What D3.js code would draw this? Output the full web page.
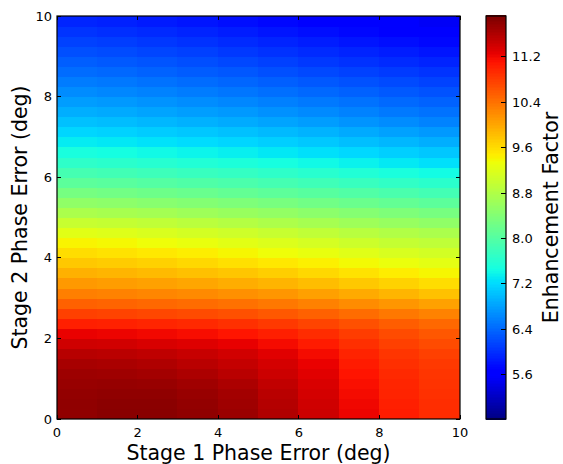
<!DOCTYPE html>
<html><head><meta charset="utf-8">
<script src="https://cdn.jsdelivr.net/npm/d3@7"></script>
<style>
html,body{margin:0;padding:0;background:#fff;}
svg{display:block;font-family:"DejaVu Sans",sans-serif;}
</style></head>
<body>
<svg id="chart" width="563" height="464"></svg>
<script>
// Stage 1 phase error bin centres (x) and Stage 2 phase error bin centres (y)
const xCenters = [0.5,1.5,2.5,3.5,4.5,5.5,6.5,7.5,8.5,9.5];
const yCenters = [0.125,0.375,0.625,0.875,1.125,1.375,1.625,1.875,2.125,2.375,2.625,2.875,
  3.125,3.375,3.625,3.875,4.125,4.375,4.625,4.875,5.125,5.375,5.625,5.875,6.125,6.375,6.625,6.875,
  7.125,7.375,7.625,7.875,8.125,8.375,8.625,8.875,9.125,9.375,9.625,9.875];
// Enhancement factor, one row per y centre (bottom to top), one value per x centre
const enhancement = [
  [11.82,11.86,11.86,11.82,11.75,11.62,11.45,11.25,11.07,10.95],
  [11.82,11.85,11.85,11.80,11.73,11.60,11.43,11.23,11.05,10.94],
  [11.80,11.82,11.82,11.77,11.70,11.57,11.40,11.20,11.02,10.92],
  [11.77,11.78,11.77,11.72,11.65,11.52,11.37,11.17,11.00,10.90],
  [11.74,11.73,11.70,11.65,11.57,11.45,11.32,11.13,10.97,10.88],
  [11.68,11.66,11.63,11.57,11.50,11.40,11.27,11.08,10.93,10.85],
  [11.58,11.56,11.53,11.48,11.42,11.32,11.20,11.02,10.88,10.80],
  [11.43,11.42,11.38,11.34,11.28,11.20,11.08,10.93,10.80,10.72],
  [11.27,11.25,11.22,11.18,11.12,11.05,10.95,10.83,10.72,10.63],
  [11.05,11.03,11.00,10.97,10.92,10.85,10.77,10.68,10.58,10.50],
  [10.80,10.78,10.75,10.72,10.68,10.62,10.55,10.47,10.38,10.30],
  [10.55,10.53,10.50,10.47,10.43,10.38,10.31,10.23,10.15,10.07],
  [10.33,10.30,10.27,10.24,10.20,10.15,10.08,10.00,9.92,9.83],
  [10.13,10.10,10.07,10.03,9.98,9.93,9.86,9.78,9.70,9.62],
  [9.95,9.92,9.88,9.84,9.79,9.73,9.66,9.58,9.50,9.43],
  [9.78,9.75,9.71,9.66,9.60,9.54,9.48,9.40,9.33,9.27],
  [9.62,9.58,9.54,9.49,9.43,9.37,9.31,9.24,9.17,9.12],
  [9.45,9.42,9.37,9.32,9.26,9.20,9.14,9.07,9.00,8.95],
  [9.25,9.22,9.18,9.13,9.08,9.02,8.96,8.89,8.83,8.78],
  [9.02,9.00,8.96,8.91,8.86,8.80,8.74,8.67,8.61,8.55],
  [8.78,8.75,8.72,8.67,8.62,8.57,8.51,8.45,8.39,8.33],
  [8.55,8.52,8.48,8.44,8.39,8.34,8.28,8.22,8.16,8.10],
  [8.32,8.29,8.25,8.21,8.16,8.11,8.06,8.00,7.94,7.88],
  [8.10,8.07,8.03,7.99,7.95,7.90,7.85,7.79,7.73,7.67],
  [7.90,7.87,7.83,7.79,7.75,7.70,7.65,7.59,7.53,7.47],
  [7.70,7.67,7.63,7.59,7.55,7.50,7.45,7.39,7.33,7.27],
  [7.52,7.49,7.45,7.41,7.37,7.32,7.27,7.21,7.15,7.09],
  [7.35,7.32,7.28,7.24,7.20,7.15,7.10,7.04,6.98,6.92],
  [7.20,7.17,7.13,7.09,7.05,7.00,6.95,6.89,6.83,6.77],
  [7.05,7.02,6.98,6.94,6.90,6.85,6.80,6.74,6.68,6.62],
  [6.92,6.89,6.85,6.81,6.77,6.72,6.67,6.61,6.55,6.50],
  [6.80,6.77,6.73,6.69,6.65,6.60,6.55,6.50,6.44,6.39],
  [6.68,6.65,6.61,6.57,6.53,6.48,6.43,6.38,6.33,6.28],
  [6.57,6.54,6.50,6.46,6.42,6.37,6.32,6.27,6.22,6.17],
  [6.46,6.43,6.39,6.35,6.31,6.26,6.21,6.16,6.11,6.06],
  [6.36,6.33,6.29,6.25,6.20,6.15,6.10,6.05,6.00,5.95],
  [6.26,6.23,6.19,6.15,6.10,6.05,6.00,5.95,5.90,5.85],
  [6.16,6.13,6.09,6.05,6.00,5.95,5.90,5.85,5.80,5.75],
  [6.06,6.03,5.99,5.95,5.90,5.85,5.80,5.75,5.70,5.65],
  [5.96,5.93,5.89,5.85,5.80,5.75,5.70,5.65,5.60,5.55]
];
const xTicks = [0,2,4,6,8,10];
const yTicks = [0,2,4,6,8,10];
const cbarTicks = [5.6,6.4,7.2,8.0,8.8,9.6,10.4,11.2];
const colorDomain = [4.82, 11.92];
const xLabel = "Stage 1 Phase Error (deg)";
const yLabel = "Stage 2 Phase Error (deg)";
const cbarLabel = "Enhancement Factor";
const cellW = 1.0, cellH = 0.25;

// jet colormap (matplotlib segment data)
const jr = d3.scaleLinear().domain([0,0.35,0.66,0.89,1]).range([0,0,1,1,0.5]).clamp(true);
const jg = d3.scaleLinear().domain([0,0.125,0.375,0.64,0.91,1]).range([0,0,1,1,0,0]).clamp(true);
const jb = d3.scaleLinear().domain([0,0.11,0.34,0.65,1]).range([0.5,1,1,0,0]).clamp(true);
const norm = d3.scaleLinear().domain(colorDomain).range([0,1]).clamp(true);
const color = v => { const t = norm(v); return d3.rgb(jr(t)*255, jg(t)*255, jb(t)*255).formatHex(); };

const svg = d3.select("#chart");
const L = 57, R = 460, T = 16, B = 419;
const x = d3.scaleLinear().domain([0,10]).range([L,R]);
const y = d3.scaleLinear().domain([0,10]).range([B,T]);

const cells = [];
yCenters.forEach((yc,i) => xCenters.forEach((xc,j) => cells.push({xc, yc, v: enhancement[i][j]})));
svg.append("g").attr("shape-rendering","crispEdges").selectAll("rect").data(cells).join("rect")
  .attr("x", d => Math.floor(x(d.xc - cellW/2)))
  .attr("y", d => Math.floor(y(d.yc + cellH/2)))
  .attr("width", d => Math.ceil(x(d.xc + cellW/2)) - Math.floor(x(d.xc - cellW/2)))
  .attr("height", d => Math.ceil(y(d.yc - cellH/2)) - Math.floor(y(d.yc + cellH/2)))
  .attr("fill", d => color(d.v));

// axes with inward ticks on all four sides
const tl = 4;
const ax = svg.append("g").attr("stroke","#000").attr("stroke-width",1).attr("shape-rendering","crispEdges");
xTicks.forEach(t => {
  ax.append("line").attr("x1",x(t)).attr("x2",x(t)).attr("y1",B).attr("y2",B-tl);
  ax.append("line").attr("x1",x(t)).attr("x2",x(t)).attr("y1",T).attr("y2",T+tl);
});
yTicks.forEach(t => {
  ax.append("line").attr("y1",y(t)).attr("y2",y(t)).attr("x1",L).attr("x2",L+tl);
  ax.append("line").attr("y1",y(t)).attr("y2",y(t)).attr("x1",R).attr("x2",R-tl);
});
svg.append("rect").attr("x",L).attr("y",T).attr("width",R-L).attr("height",B-T)
  .attr("fill","none").attr("stroke","#000").attr("stroke-width",1.2);

svg.append("g").selectAll("text").data(xTicks).join("text")
  .attr("x", d => x(d)).attr("y", B+18).attr("text-anchor","middle")
  .attr("font-size",13).text(d => d);
svg.append("g").selectAll("text").data(yTicks).join("text")
  .attr("x", L-5).attr("y", d => y(d)+4.5).attr("text-anchor","end")
  .attr("font-size",13).text(d => d);

svg.append("text").attr("x",(L+R)/2).attr("y",460).attr("text-anchor","middle")
  .attr("font-size",20.5).text(xLabel);
svg.append("text").attr("transform",`translate(27,${(T+B)/2}) rotate(-90)`).attr("text-anchor","middle")
  .attr("font-size",20.5).text(yLabel);

// colorbar
const cL = 486, cR = 506;
const cy = d3.scaleLinear().domain(colorDomain).range([B,T]);
const nSteps = 256;
const steps = d3.range(nSteps).map(i => colorDomain[0] + (i+0.5)*(colorDomain[1]-colorDomain[0])/nSteps);
const dv = (colorDomain[1]-colorDomain[0])/nSteps;
svg.append("g").attr("shape-rendering","crispEdges").selectAll("rect").data(steps).join("rect")
  .attr("x", cL).attr("width", cR-cL)
  .attr("y", d => Math.floor(cy(d + dv/2)))
  .attr("height", d => Math.ceil(cy(d - dv/2)) - Math.floor(cy(d + dv/2)) + 0.5)
  .attr("fill", d => color(d));
const cax = svg.append("g").attr("stroke","#000").attr("shape-rendering","crispEdges");
cbarTicks.forEach(t => {
  cax.append("line").attr("x1",cR).attr("x2",cR-5).attr("y1",cy(t)).attr("y2",cy(t));
});
svg.append("rect").attr("x",cL).attr("y",T).attr("width",cR-cL).attr("height",B-T)
  .attr("fill","none").attr("stroke","#000").attr("stroke-width",1.2);
svg.append("g").selectAll("text").data(cbarTicks).join("text")
  .attr("x", cR+6).attr("y", d => cy(d)+4.5).attr("font-size",13)
  .text(d => d.toFixed(1));
svg.append("text").attr("transform",`translate(558,${(T+B)/2}) rotate(-90)`).attr("text-anchor","middle")
  .attr("font-size",20.5).text(cbarLabel);
</script>
</body></html>
